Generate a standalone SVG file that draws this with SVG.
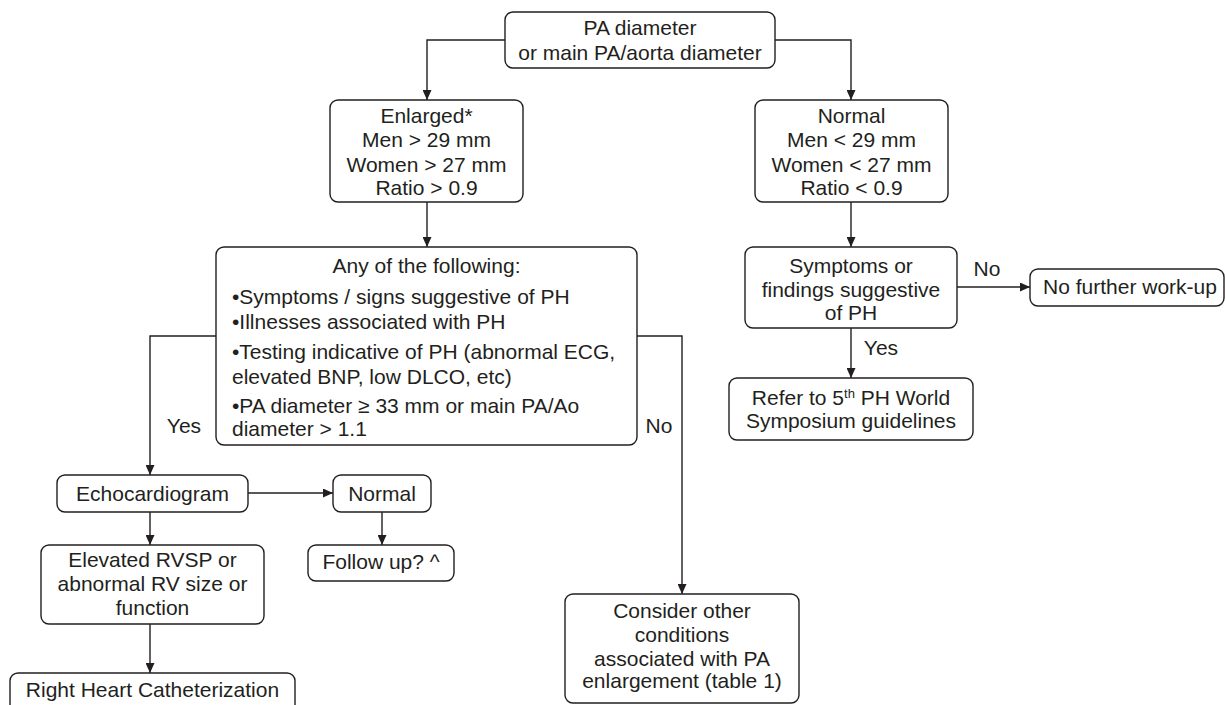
<svg xmlns="http://www.w3.org/2000/svg" width="1225" height="705" viewBox="0 0 1225 705">
<defs>
<style>
.box{fill:#fff;stroke:#231f20;stroke-width:1.4}
.t{font-family:"Liberation Sans",Arial,Helvetica,sans-serif;font-size:21px;fill:#231f20}
.c{text-anchor:middle}
.ln{fill:none;stroke:#231f20;stroke-width:1.4}
</style>
<marker id="ah" markerUnits="userSpaceOnUse" markerWidth="10" markerHeight="9" refX="10" refY="4.5" orient="auto">
<path d="M0,0 L10,4.5 L0,9 z" fill="#231f20"/>
</marker>
</defs>
<rect width="1225" height="705" fill="#fff"/>
<g id="connectors">
<path class="ln" d="M505,40 H427 V100" marker-end="url(#ah)"/>
<path class="ln" d="M775,40 H851 V100" marker-end="url(#ah)"/>
<path class="ln" d="M427,202 V247" marker-end="url(#ah)"/>
<path class="ln" d="M851,202 V247" marker-end="url(#ah)"/>
<path class="ln" d="M957,287 H1030" marker-end="url(#ah)"/>
<path class="ln" d="M851,328 V378" marker-end="url(#ah)"/>
<path class="ln" d="M216,336 H150 V475" marker-end="url(#ah)"/>
<path class="ln" d="M637,336 H682 V594" marker-end="url(#ah)"/>
<path class="ln" d="M248,493 H333" marker-end="url(#ah)"/>
<path class="ln" d="M382,512 V545" marker-end="url(#ah)"/>
<path class="ln" d="M150,512 V545" marker-end="url(#ah)"/>
<path class="ln" d="M150,624 V673" marker-end="url(#ah)"/>
<text class="t c" x="184" y="433">Yes</text>
<text class="t c" x="659" y="433">No</text>
<text class="t c" x="987" y="276">No</text>
<text class="t c" x="881" y="355">Yes</text>
</g>
<g id="n-top">
<rect class="box" x="505" y="12" width="270" height="56" rx="8"/>
<text class="t c" x="640" y="35">PA diameter</text>
<text class="t c" x="640" y="60">or main PA/aorta diameter</text>
</g>
<g id="n-enlarged">
<rect class="box" x="330" y="100" width="193" height="102" rx="8"/>
<text class="t c" x="426.5" y="123">Enlarged*</text>
<text class="t c" x="426.5" y="147">Men &gt; 29 mm</text>
<text class="t c" x="426.5" y="172">Women &gt; 27 mm</text>
<text class="t c" x="426.5" y="195">Ratio &gt; 0.9</text>
</g>
<g id="n-normal">
<rect class="box" x="755" y="100" width="193" height="102" rx="8"/>
<text class="t c" x="851.5" y="123">Normal</text>
<text class="t c" x="851.5" y="147">Men &lt; 29 mm</text>
<text class="t c" x="851.5" y="172">Women &lt; 27 mm</text>
<text class="t c" x="851.5" y="195">Ratio &lt; 0.9</text>
</g>
<g id="n-any">
<rect class="box" x="216" y="247" width="421" height="198" rx="8"/>
<text class="t c" x="426.5" y="273">Any of the following:</text>
<text class="t" x="232" y="304">•Symptoms / signs suggestive of PH</text>
<text class="t" x="232" y="329">•Illnesses associated with PH</text>
<text class="t" x="232" y="359">•Testing indicative of PH (abnormal ECG,</text>
<text class="t" x="232" y="384">elevated BNP, low DLCO, etc)</text>
<text class="t" x="232" y="413">•PA diameter ≥ 33 mm or main PA/Ao</text>
<text class="t" x="232" y="436">diameter &gt; 1.1</text>
</g>
<g id="n-symptoms">
<rect class="box" x="745" y="247" width="212" height="81" rx="8"/>
<text class="t c" x="851" y="273">Symptoms or</text>
<text class="t c" x="851" y="297">findings suggestive</text>
<text class="t c" x="851" y="320">of PH</text>
</g>
<g id="n-nofurther">
<rect class="box" x="1030" y="269" width="194" height="37" rx="8"/>
<text class="t c" x="1130" y="294">No further work-up</text>
</g>
<g id="n-refer">
<rect class="box" x="729" y="378" width="244" height="62" rx="8"/>
<text class="t c" x="851" y="405">Refer to 5<tspan font-size="13" dy="-7">th</tspan><tspan dy="7"> PH World</tspan></text>
<text class="t c" x="851" y="428">Symposium guidelines</text>
</g>
<g id="n-echo">
<rect class="box" x="57" y="475" width="191" height="37" rx="8"/>
<text class="t c" x="152.5" y="501">Echocardiogram</text>
</g>
<g id="n-normal2">
<rect class="box" x="333" y="475" width="98" height="37" rx="8"/>
<text class="t c" x="382" y="501">Normal</text>
</g>
<g id="n-followup">
<rect class="box" x="308" y="545" width="146" height="36" rx="8"/>
<text class="t c" x="381" y="569">Follow up? ^</text>
</g>
<g id="n-elevated">
<rect class="box" x="41" y="545" width="223" height="79" rx="8"/>
<text class="t c" x="152.5" y="567">Elevated RVSP or</text>
<text class="t c" x="152.5" y="591">abnormal RV size or</text>
<text class="t c" x="152.5" y="615">function</text>
</g>
<g id="n-rhc">
<rect class="box" x="10" y="673" width="285" height="50" rx="8"/>
<text class="t c" x="152.5" y="697">Right Heart Catheterization</text>
</g>
<g id="n-consider">
<rect class="box" x="565" y="594" width="234" height="109" rx="8"/>
<text class="t c" x="682" y="618">Consider other</text>
<text class="t c" x="682" y="642">conditions</text>
<text class="t c" x="682" y="666">associated with PA</text>
<text class="t c" x="682" y="688">enlargement (table 1)</text>
</g>
</svg>
